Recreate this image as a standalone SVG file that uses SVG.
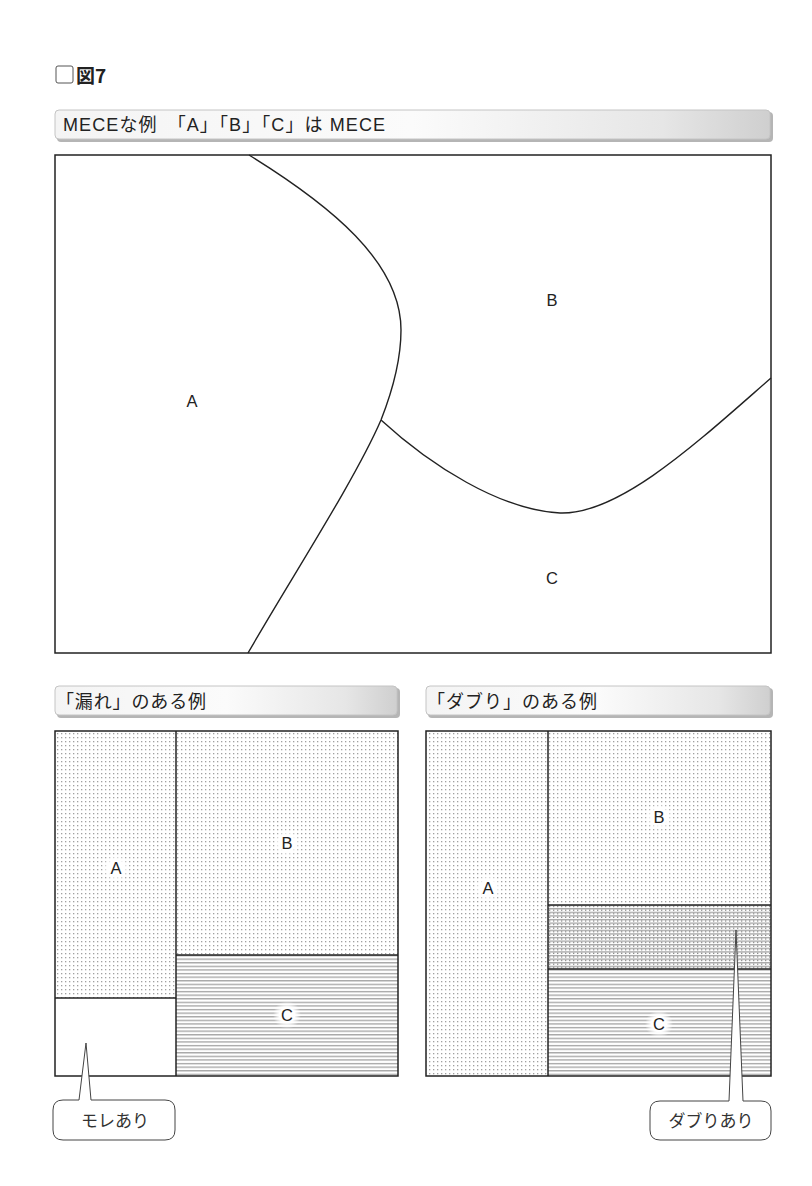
<svg xmlns="http://www.w3.org/2000/svg" width="812" height="1186" viewBox="0 0 812 1186">
<defs>
<style>
.t{font-family:"Liberation Sans","Noto Sans CJK JP",sans-serif;fill:#222;}
.j{font-family:"Noto Sans CJK JP","Liberation Sans",sans-serif;fill:#222;}
.hd{font-size:18px;}
.lb{font-size:16.5px;text-anchor:middle;}
.box{fill:none;stroke:#222;stroke-width:1.5;}
.ln{fill:none;stroke:#222;stroke-width:1.4;}
.bar{fill:url(#barg);stroke:#c4c4c4;stroke-width:1;}
.shd{fill:#b5b5b5;}
.call{fill:#fff;stroke:#444;stroke-width:1;}
.ct{font-size:17px;text-anchor:middle;fill:#333;}
</style>
<linearGradient id="barg" x1="0" y1="0" x2="1" y2="0">
<stop offset="0" stop-color="#f4f4f4"/>
<stop offset="0.5" stop-color="#fbfbfb"/>
<stop offset="0.85" stop-color="#e6e6e6"/>
<stop offset="1" stop-color="#cfcfcf"/>
</linearGradient>
<pattern id="dots" width="4" height="4" patternUnits="userSpaceOnUse">
<rect width="4" height="4" fill="#fff"/>
<rect x="1" y="1" width="1.3" height="1.3" fill="#a0a0a0"/>
</pattern>
<pattern id="hl" width="4" height="3.6" patternUnits="userSpaceOnUse">
<rect width="4" height="3.6" fill="#fff"/>
<rect y="1" width="4" height="1.2" fill="#9a9a9a"/>
</pattern>
<pattern id="both" width="4" height="3.6" patternUnits="userSpaceOnUse">
<rect width="4" height="3.6" fill="#fff"/>
<rect y="1" width="4" height="1.2" fill="#9a9a9a"/>
<rect x="1" y="2.4" width="1.3" height="1.2" fill="#8a8a8a"/>
</pattern>
<radialGradient id="halo">
<stop offset="0.55" stop-color="#fff" stop-opacity="1"/>
<stop offset="1" stop-color="#fff" stop-opacity="0"/>
</radialGradient>
</defs>
<rect width="812" height="1186" fill="#fff"/>

<g id="title">
<rect x="56" y="66" width="17" height="17" rx="2" fill="#fff" stroke="#555" stroke-width="1"/>
<text class="j" x="76" y="83" font-size="19" font-weight="bold">図7</text>
</g>

<g id="header-mece">
<rect class="shd" x="57" y="112" width="716" height="30" rx="4"/>
<rect class="bar" x="55" y="110" width="715" height="29" rx="4"/>
<text class="t hd" x="63" y="131" textLength="322" lengthAdjust="spacing">MECEな例　「A」「B」「C」は MECE</text>
</g>

<g id="mece-panel">
<rect class="box" x="55" y="155" width="716" height="498" fill="#fff"/>
<path class="ln" d="M249,155 C330,205 401,262 401,330 C401,362 392,392 381,420 C355,480 290,580 248,653"/>
<path class="ln" d="M381,420 C430,465 500,510 560,513 C620,515 700,440 771,378"/>
<text class="t lb" x="192" y="407">A</text>
<text class="t lb" x="552" y="306">B</text>
<text class="t lb" x="552" y="584">C</text>
</g>

<g id="header-more">
<rect class="shd" x="57" y="688" width="343" height="30" rx="4"/>
<rect class="bar" x="55" y="686" width="342" height="29" rx="4"/>
<text class="t hd" x="56" y="708" textLength="150" lengthAdjust="spacing">「漏れ」のある例</text>
</g>

<g id="header-daburi">
<rect class="shd" x="428" y="688" width="345" height="30" rx="4"/>
<rect class="bar" x="426" y="686" width="344" height="29" rx="4"/>
<text class="t hd" x="427" y="708" textLength="170" lengthAdjust="spacing">「ダブり」のある例</text>
</g>

<g id="more-panel">
<rect x="55" y="731" width="121" height="267" fill="url(#dots)"/>
<rect x="55" y="998" width="121" height="78" fill="#fff"/>
<rect x="176" y="731" width="222" height="224" fill="url(#dots)"/>
<rect x="176" y="955" width="222" height="121" fill="url(#hl)"/>
<line class="box" x1="55" y1="998" x2="176" y2="998"/>
<line class="box" x1="176" y1="955" x2="398" y2="955"/>
<line class="box" x1="176" y1="731" x2="176" y2="1076"/>
<rect class="box" x="55" y="731" width="343" height="345"/>
<circle cx="116" cy="868" r="14" fill="url(#halo)"/>
<text class="t lb" x="116" y="874">A</text>
<circle cx="287" cy="843" r="14" fill="url(#halo)"/>
<text class="t lb" x="287" y="849">B</text>
<circle cx="287" cy="1015" r="14" fill="url(#halo)"/>
<text class="t lb" x="287" y="1021">C</text>
</g>

<g id="daburi-panel">
<rect x="426" y="731" width="122" height="345" fill="url(#dots)"/>
<rect x="548" y="731" width="223" height="174" fill="url(#dots)"/>
<rect x="548" y="905" width="223" height="64" fill="url(#both)"/>
<rect x="548" y="969" width="223" height="107" fill="url(#hl)"/>
<line class="box" x1="548" y1="905" x2="771" y2="905"/>
<line class="box" x1="548" y1="969" x2="771" y2="969"/>
<line class="box" x1="548" y1="731" x2="548" y2="1076"/>
<rect class="box" x="426" y="731" width="345" height="345"/>
<circle cx="488" cy="888" r="14" fill="url(#halo)"/>
<text class="t lb" x="488" y="894">A</text>
<circle cx="659" cy="817" r="14" fill="url(#halo)"/>
<text class="t lb" x="659" y="823">B</text>
<circle cx="659" cy="1024" r="14" fill="url(#halo)"/>
<text class="t lb" x="659" y="1030">C</text>
</g>

<g id="callout-more">
<path class="call" d="M63,1100 H79 L86,1043 L91,1100 H165 Q175,1100 175,1110 V1130 Q175,1140 165,1140 H63 Q53,1140 53,1130 V1110 Q53,1100 63,1100 Z"/>
<text class="j ct" x="115" y="1127">モレあり</text>
</g>

<g id="callout-daburi">
<path class="call" d="M660,1101 H729 L736,930 L743,1101 H761 Q771,1101 771,1111 V1130 Q771,1140 761,1140 H660 Q650,1140 650,1130 V1111 Q650,1101 660,1101 Z"/>
<text class="j ct" x="711" y="1127">ダブりあり</text>
</g>
</svg>
